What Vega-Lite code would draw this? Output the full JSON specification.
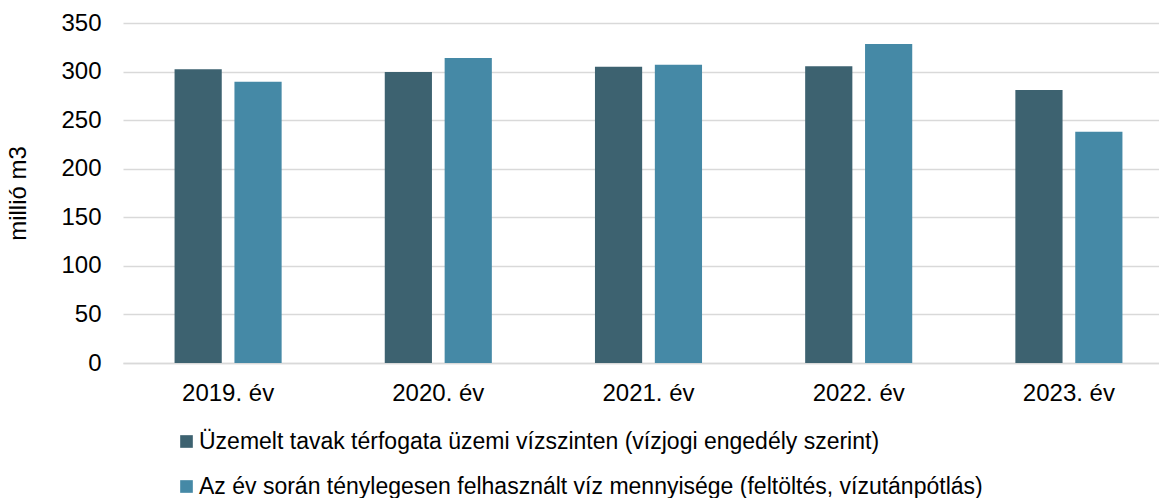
{
  "$schema": "https://vega.github.io/schema/vega-lite/v6.json",
  "width": 1036,
  "height": 340,
  "autosize": {"type": "none"},
  "padding": {"left": 123, "top": 23, "right": 0, "bottom": 135},
  "background": "white",
  "config": {
    "font": "Liberation Sans",
    "view": {"stroke": null},
    "axis": {"labelFont": "Liberation Sans", "titleFont": "Liberation Sans", "labelColor": "#000000", "titleColor": "#000000"},
    "legend": {"labelFont": "Liberation Sans"}
  },
  "data": {
    "values": [
      {"ev": "2019. év", "sorozat": "Üzemelt tavak térfogata üzemi vízszinten (vízjogi engedély szerint)", "ertek": 302.5},
      {"ev": "2019. év", "sorozat": "Az év során ténylegesen felhasznált víz mennyisége (feltöltés, vízutánpótlás)", "ertek": 289.5},
      {"ev": "2020. év", "sorozat": "Üzemelt tavak térfogata üzemi vízszinten (vízjogi engedély szerint)", "ertek": 299.5},
      {"ev": "2020. év", "sorozat": "Az év során ténylegesen felhasznált víz mennyisége (feltöltés, vízutánpótlás)", "ertek": 314},
      {"ev": "2021. év", "sorozat": "Üzemelt tavak térfogata üzemi vízszinten (vízjogi engedély szerint)", "ertek": 305},
      {"ev": "2021. év", "sorozat": "Az év során ténylegesen felhasznált víz mennyisége (feltöltés, vízutánpótlás)", "ertek": 307},
      {"ev": "2022. év", "sorozat": "Üzemelt tavak térfogata üzemi vízszinten (vízjogi engedély szerint)", "ertek": 305.5},
      {"ev": "2022. év", "sorozat": "Az év során ténylegesen felhasznált víz mennyisége (feltöltés, vízutánpótlás)", "ertek": 328.5},
      {"ev": "2023. év", "sorozat": "Üzemelt tavak térfogata üzemi vízszinten (vízjogi engedély szerint)", "ertek": 281},
      {"ev": "2023. év", "sorozat": "Az év során ténylegesen felhasznált víz mennyisége (feltöltés, vízutánpótlás)", "ertek": 238}
    ]
  },
  "mark": {"type": "bar"},
  "encoding": {
    "x": {
      "field": "ev",
      "type": "nominal",
      "sort": null,
      "scale": {"range": [0, 1051], "paddingInner": 0, "paddingOuter": 0},
      "axis": {
        "title": null,
        "labelAngle": 0,
        "labelFontSize": 24,
        "labelPadding": 18,
        "ticks": false,
        "tickSize": 0,
        "domain": true,
        "domainColor": "#D9D9D9",
        "domainWidth": 1.5,
        "grid": false
      }
    },
    "xOffset": {
      "field": "sorozat",
      "type": "nominal",
      "sort": [
        "Üzemelt tavak térfogata üzemi vízszinten (vízjogi engedély szerint)",
        "Az év során ténylegesen felhasznált víz mennyisége (feltöltés, vízutánpótlás)"
      ],
      "scale": {"paddingInner": 0.212, "paddingOuter": 0.861}
    },
    "y": {
      "field": "ertek",
      "type": "quantitative",
      "scale": {"domain": [0, 350], "nice": false},
      "axis": {
        "title": "millió m3",
        "titleFontSize": 24,
        "titleFontWeight": "normal",
        "titlePadding": 30,
        "values": [0, 50, 100, 150, 200, 250, 300, 350],
        "labelFontSize": 24,
        "labelPadding": 22,
        "ticks": false,
        "tickSize": 0,
        "domain": false,
        "grid": true,
        "gridColor": "#D9D9D9",
        "gridWidth": 1.5
      }
    },
    "color": {
      "field": "sorozat",
      "type": "nominal",
      "scale": {
        "domain": [
          "Üzemelt tavak térfogata üzemi vízszinten (vízjogi engedély szerint)",
          "Az év során ténylegesen felhasznált víz mennyisége (feltöltés, vízutánpótlás)"
        ],
        "range": ["#3D6270", "#4589A6"]
      },
      "legend": {
        "title": null,
        "orient": "none",
        "direction": "vertical",
        "legendX": 52,
        "legendY": 407,
        "padding": 0,
        "symbolType": "square",
        "symbolSize": 160,
        "symbolStrokeWidth": 0,
        "labelFontSize": 23,
        "labelColor": "#000000",
        "labelLimit": 1000,
        "labelOffset": 1,
        "rowPadding": 21
      }
    }
  }
}
